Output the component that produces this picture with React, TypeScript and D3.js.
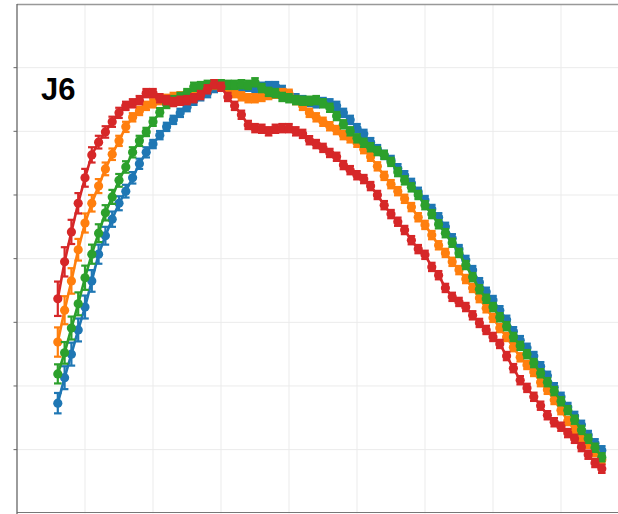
import React from 'react'
import * as d3 from 'd3'

// x positions shared by all four curves
const xs = [0.6,0.7,0.8,0.9,1.0,1.1,1.2,1.3,1.4,1.5,1.6,1.7,1.8,1.9,2.0,2.1,2.2,2.3,2.4,2.5,
  2.6,2.7,2.8,2.9,3.0,3.1,3.2,3.3,3.4,3.5,3.6,3.7,3.8,3.9,4.0,4.1,4.2,4.3,4.4,4.5,
  4.6,4.7,4.8,4.9,5.0,5.1,5.2,5.3,5.4,5.5,5.6,5.7,5.8,5.9,6.0,6.1,6.2,6.3,6.4,6.5,
  6.6,6.7,6.8,6.9,7.0,7.1,7.2,7.3,7.4,7.5,7.6,7.7,7.8,7.9,8.0,8.1,8.2,8.3,8.4,8.5,8.6]

const blueVals = [1.73,2.13,2.50,2.88,3.24,3.65,4.07,4.36,4.62,4.87,
  5.06,5.27,5.49,5.67,5.80,5.94,6.07,6.18,6.29,6.38,
  6.48,6.55,6.60,6.68,6.71,6.71,6.70,6.68,6.70,6.66,
  6.70,6.71,6.71,6.65,6.57,6.52,6.49,6.46,6.44,6.46,
  6.44,6.40,6.29,6.18,6.05,5.96,5.83,5.72,5.63,5.55,
  5.42,5.31,5.19,5.05,4.92,4.78,4.65,4.50,4.32,4.15,
  3.98,3.82,3.63,3.48,3.35,3.19,3.04,2.86,2.72,2.60,
  2.47,2.31,2.16,1.98,1.83,1.67,1.53,1.39,1.23,1.10,0.99]

const orangeVals = [2.69,3.19,3.65,4.14,4.56,4.87,5.14,5.41,5.64,5.85,
  6.07,6.22,6.32,6.40,6.44,6.49,6.51,6.54,6.55,6.57,
  6.60,6.65,6.70,6.73,6.74,6.66,6.60,6.55,6.52,6.52,
  6.54,6.57,6.59,6.60,6.59,6.49,6.40,6.29,6.22,6.15,
  6.08,6.02,5.94,5.89,5.82,5.72,5.60,5.45,5.30,5.17,
  5.06,4.94,4.81,4.65,4.53,4.37,4.21,4.09,3.95,3.82,
  3.68,3.54,3.38,3.22,3.07,2.91,2.77,2.61,2.45,2.33,
  2.22,2.06,1.94,1.78,1.62,1.45,1.31,1.20,1.09,0.96,0.84]

const greenVals = [2.19,2.52,2.91,3.29,3.70,4.07,4.40,4.72,4.97,5.23,
  5.44,5.67,5.85,5.99,6.15,6.30,6.43,6.49,6.54,6.60,
  6.70,6.71,6.73,6.74,6.74,6.73,6.73,6.74,6.73,6.77,
  6.68,6.62,6.60,6.54,6.52,6.49,6.48,6.48,6.49,6.44,
  6.37,6.24,6.11,6.00,5.89,5.82,5.75,5.69,5.63,5.52,
  5.36,5.23,5.12,5.00,4.84,4.70,4.54,4.40,4.25,4.09,
  3.90,3.71,3.52,3.37,3.24,3.08,2.94,2.77,2.63,2.50,
  2.36,2.20,2.06,1.92,1.76,1.62,1.47,1.31,1.17,1.03,0.88]

const redVals = [3.37,3.95,4.42,4.87,5.27,5.63,5.83,5.99,6.15,6.29,
  6.40,6.44,6.49,6.60,6.60,6.52,6.49,6.46,6.48,6.49,
  6.52,6.57,6.66,6.74,6.70,6.54,6.40,6.26,6.10,6.05,
  6.04,6.00,6.04,6.05,6.05,6.00,5.96,5.86,5.80,5.74,
  5.66,5.60,5.47,5.39,5.31,5.25,5.14,5.00,4.84,4.70,
  4.58,4.45,4.29,4.15,4.06,3.87,3.74,3.54,3.40,3.32,
  3.24,3.11,2.99,2.88,2.77,2.66,2.47,2.28,2.09,1.97,
  1.83,1.69,1.54,1.43,1.36,1.26,1.17,1.04,0.92,0.79,0.70]

// error bars that can be read on the rising part; the rest sit under the markers
const blueErr = [0.16,0.18,0.18,0.18,0.18,0.17,0.15,0.14,0.12,0.11,0.10,0.09,0.08,0.08]
const orangeErr = [0.23,0.22,0.20,0.17,0.15,0.13,0.11,0.10,0.09,0.08,0.08]
const greenErr = [0.15,0.17,0.18,0.18,0.19,0.15,0.14,0.12,0.11,0.10,0.09,0.08,0.08]
const redErr = [0.27,0.23,0.19,0.16,0.14,0.12,0.10,0.09,0.08,0.08]
const hiddenErr = 0.065

const series = [
  { name: 'blue', color: '#1f77b4', vals: blueVals, err: blueErr },
  { name: 'orange', color: '#ff7f0e', vals: orangeVals, err: orangeErr },
  { name: 'green', color: '#2ca02c', vals: greenVals, err: greenErr },
  { name: 'red', color: '#d62728', vals: redVals, err: redErr },
]

const xGrid = [1, 2, 3, 4, 5, 6, 7, 8]
const yGrid = [1, 2, 3, 4, 5, 6, 7]

export default function App() {
  const W = 618
  const H = 514
  const x = d3.scaleLinear().domain([0, 9]).range([17, 629])
  const y = d3.scaleLinear().domain([0, 8]).range([513.3, 4])

  const line = d3.line<number>()
    .x((_, i) => x(xs[i]))
    .y(d => y(d))

  return (
    <svg width={W} height={H} style={{ position: 'absolute', left: 0, top: 0, background: '#fff' }}>
      {xGrid.map(t => (
        <line key={'gx' + t} x1={x(t)} x2={x(t)} y1={y(0)} y2={y(8)} stroke="#ebebeb" strokeWidth={1} />
      ))}
      {yGrid.map(t => (
        <line key={'gy' + t} x1={x(0)} x2={W} y1={y(t)} y2={y(t)} stroke="#ebebeb" strokeWidth={1} />
      ))}
      {yGrid.map(t => (
        <line key={'ty' + t} x1={x(0) - 3.5} x2={x(0)} y1={y(t)} y2={y(t)} stroke="#666" strokeWidth={1} />
      ))}
      <line x1={x(0)} x2={W} y1={4.5} y2={4.5} stroke="#999" strokeWidth={1.5} />
      <line x1={x(0)} x2={W} y1={512.5} y2={512.5} stroke="#777" strokeWidth={1.2} />
      <line x1={x(0)} x2={x(0)} y1={4} y2={H} stroke="#666" strokeWidth={1.3} />

      {series.map(s => (
        <g key={s.name}>
          <path d={line(s.vals) || ''} fill="none" stroke={s.color} strokeWidth={2.6} />
          {s.vals.map((v, i) => {
            const e = i < s.err.length ? s.err[i] : hiddenErr
            const cx = x(xs[i])
            return (
              <g key={i} stroke={s.color} strokeWidth={2.2}>
                <line x1={cx} x2={cx} y1={y(v - e)} y2={y(v + e)} />
                <line x1={cx - 3.8} x2={cx + 3.8} y1={y(v - e)} y2={y(v - e)} />
                <line x1={cx - 3.8} x2={cx + 3.8} y1={y(v + e)} y2={y(v + e)} />
              </g>
            )
          })}
          {s.vals.map((v, i) => (
            <circle key={'m' + i} cx={x(xs[i])} cy={y(v)} r={4.6} fill={s.color} />
          ))}
        </g>
      ))}

      <text x={41} y={100} fontFamily="'Liberation Sans', Arial, sans-serif" fontWeight="bold" fontSize={31} fill="#000">J6</text>
    </svg>
  )
}
